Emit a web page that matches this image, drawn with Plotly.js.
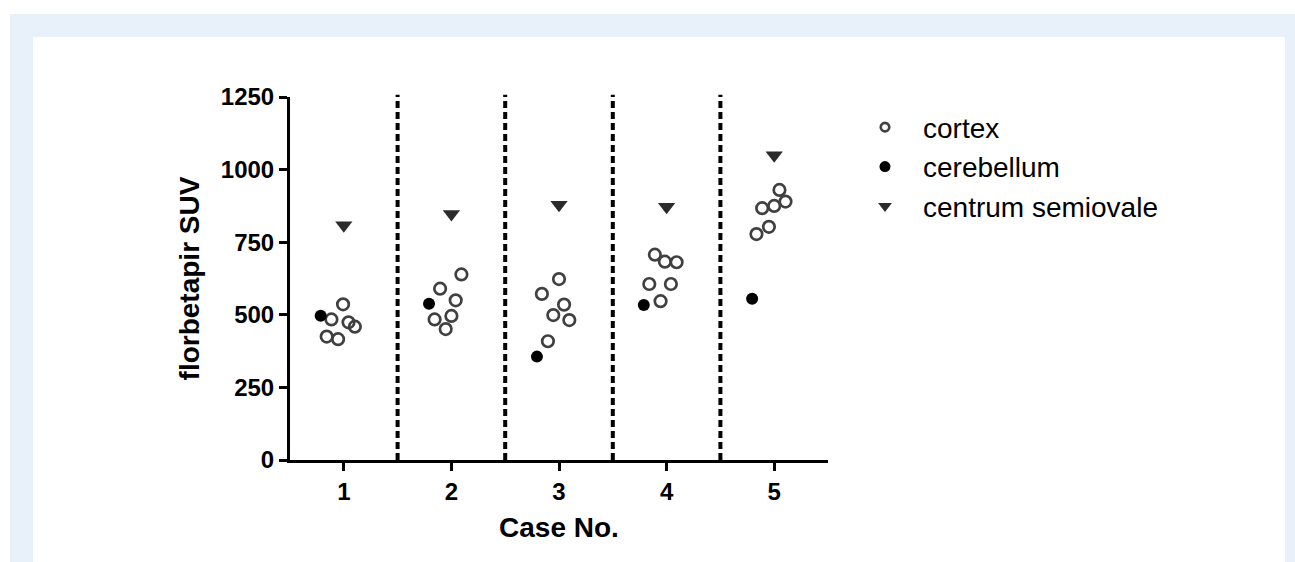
<!DOCTYPE html>
<html>
<head>
<meta charset="utf-8">
<script src="https://cdn.plot.ly/plotly-3.0.1.min.js"></script>
<style>
  html, body { margin: 0; padding: 0; background: #ffffff; }
  #frame { position: absolute; left: 10px; top: 14px; width: 1285px; height: 548px; background: #e8f1fa; }
  #inner { position: absolute; left: 33px; top: 37px; width: 1252px; height: 525px; background: #ffffff; }
  #chart { position: absolute; left: 0; top: 0; width: 1295px; height: 562px; }
</style>
</head>
<body>
<div id="frame"></div>
<div id="inner"></div>
<div id="chart"></div>
<script>
// ---- data ----
const cases = [1, 2, 3, 4, 5];
const caseLabels = ["1", "2", "3", "4", "5"];

// cortex: six readings per case, with horizontal scatter offsets
const cortexOffset = [
  [-0.007, -0.115, 0.044, 0.103, -0.159, -0.053],
  [0.093, -0.105, 0.040, 0.000, -0.156, -0.053],
  [0.000, -0.159, 0.047, -0.053, 0.096, -0.103],
  [-0.109, -0.016, 0.093, -0.161, 0.040, -0.056],
  [0.049, 0.105, 0.000, -0.112, -0.049, -0.165]
];
const cortexSUV = [
  [536, 484, 474, 459, 425, 416],
  [639, 590, 550, 496, 484, 451],
  [623, 572, 535, 499, 482, 409],
  [707, 683, 681, 606, 606, 547],
  [930, 890, 875, 867, 803, 778]
];
const cerebellumOffset = [-0.215, -0.208, -0.205, -0.212, -0.205];
const cerebellumSUV = [497, 538, 356, 534, 555];
const centrumSUV = [808, 847, 879, 872, 1049];

const yTicks = [0, 250, 500, 750, 1000, 1250];

// ---- build traces ----
const cx = [], cy = [];
cases.forEach((c, i) => {
  cortexSUV[i].forEach((v, j) => { cx.push(c + cortexOffset[i][j]); cy.push(v); });
});
const font = "Arial, 'Liberation Sans', sans-serif";

const traces = [
  { type: 'scatter', mode: 'markers', x: cx, y: cy, showlegend: false,
    marker: { symbol: 'circle-open', size: 11.5, color: '#404040', line: { width: 2.7, color: '#404040' } } },
  { type: 'scatter', mode: 'markers', x: cases.map((c, i) => c + cerebellumOffset[i]), y: cerebellumSUV, showlegend: false,
    marker: { symbol: 'circle', size: 12, color: '#000000' } },
  { type: 'scatter', mode: 'markers', x: cases, y: centrumSUV, showlegend: false,
    marker: { symbol: 'triangle-down', size: 15, color: '#2b2b2b' } },
  // legend entries
  { type: 'scatter', mode: 'markers', x: [null], y: [null], name: 'cortex',
    marker: { symbol: 'circle-open', size: 8.5, color: '#404040', line: { width: 2.6, color: '#404040' } } },
  { type: 'scatter', mode: 'markers', x: [null], y: [null], name: 'cerebellum',
    marker: { symbol: 'circle', size: 11, color: '#000000' } },
  { type: 'scatter', mode: 'markers', x: [null], y: [null], name: 'centrum semiovale',
    marker: { symbol: 'triangle-down', size: 12, color: '#2b2b2b' } }
];

const shapes = cases.slice(0, -1).map(c => ({
  type: 'line', xref: 'x', yref: 'paper', x0: c + 0.5, x1: c + 0.5, y0: 0, y1: 1.006,
  line: { color: '#000000', width: 4, dash: '7px,4px' }
}));

const layout = {
  width: 1295, height: 562,
  margin: { l: 290, r: 467, t: 97, b: 102, pad: 0 },
  paper_bgcolor: 'rgba(0,0,0,0)', plot_bgcolor: 'rgba(0,0,0,0)',
  font: { family: font, color: '#000000' },
  showlegend: true,
  legend: { x: 1.0353, y: 0.985, xanchor: 'left', yanchor: 'top', bgcolor: 'rgba(0,0,0,0)',
    font: { family: font, size: 28, color: '#000000' }, tracegroupgap: 0, itemwidth: 66 },
  xaxis: {
    range: [0.5, 5.5], tickvals: cases, ticktext: caseLabels,
    showgrid: false, zeroline: false, showline: true, linecolor: '#000000', linewidth: 3,
    ticks: 'outside', ticklen: 8, tickwidth: 3, tickcolor: '#000000',
    tickfont: { family: font, size: 24, color: '#000000', weight: 'bold' },
    title: { text: '<b>Case No.</b>', font: { family: font, size: 28, color: '#000000' }, standoff: 14 }
  },
  yaxis: {
    range: [0, 1250], tickvals: yTicks, ticktext: yTicks.map(String),
    showgrid: false, zeroline: false, showline: true, linecolor: '#000000', linewidth: 3,
    ticks: 'outside', ticklen: 8, tickwidth: 3, tickcolor: '#000000',
    tickfont: { family: font, size: 24, color: '#000000', weight: 'bold' },
    title: { text: '<b>florbetapir SUV</b>', font: { family: font, size: 28, color: '#000000' }, standoff: 14 }
  },
  shapes: shapes
};

Plotly.newPlot('chart', traces, layout, { displayModeBar: false, staticPlot: true });
</script>
</body>
</html>
